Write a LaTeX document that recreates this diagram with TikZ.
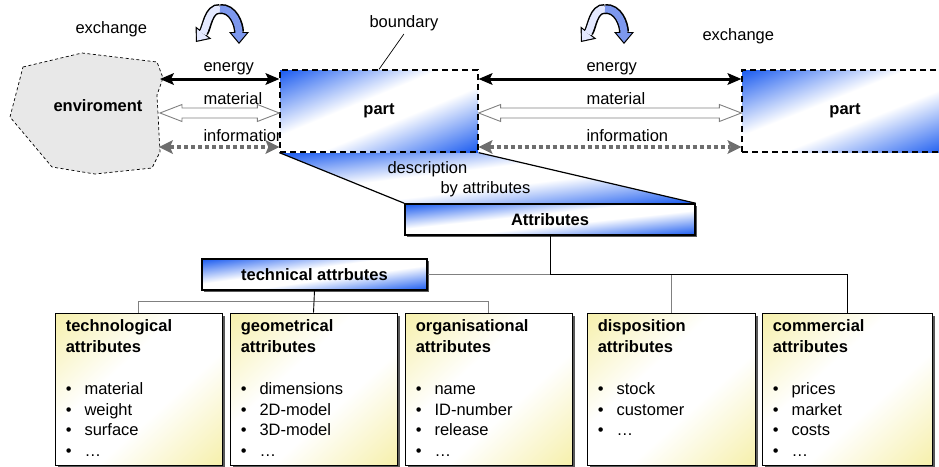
\documentclass[tikz,border=0pt]{standalone}
\usepackage{fontspec}
\setmainfont{Liberation Sans}
\usetikzlibrary{positioning, calc, arrows.meta, shadows, backgrounds}

\definecolor{envgray}{RGB}{232,232,232}
\definecolor{infogray}{RGB}{110,110,110}
\definecolor{iconblue}{RGB}{125,152,238}
\definecolor{iconwhite}{RGB}{228,233,255}

% white band along the diagonal, colour in the two far corners
\pgfdeclarefunctionalshading{partshade}{\pgfpointorigin}{\pgfpoint{100bp}{100bp}}{}{
  exch 25 sub 50 div exch 25 sub 50 div sub abs
  0.2 sub 0.8 div
  dup 0 lt {pop 0} if dup 1 gt {pop 1} if
  dup 0.902 mul 1 exch sub exch
  dup 0.647 mul 1 exch sub exch
  0.06 mul 1 exch sub
}
\pgfdeclarefunctionalshading{boxshade}{\pgfpointorigin}{\pgfpoint{100bp}{100bp}}{}{
  exch 25 sub 50 div exch 25 sub 50 div sub abs
  0.25 sub 0.75 div
  dup 0 lt {pop 0} if dup 1 gt {pop 1} if
  dup 0.035 mul 1 exch sub exch
  dup 0.06 mul 1 exch sub exch
  0.33 mul 1 exch sub
}

\newcommand{\diafont}{\fontsize{16.5}{20.5}\selectfont}
\newcommand{\titlelines}[1]{\begin{tabular}{@{}l@{}}#1\end{tabular}}
\newcommand{\bulletlist}[1]{\begin{tabular}{@{}l@{\hspace{13pt}}l@{}}#1\end{tabular}}
\newcommand{\matarrow}[2]{%
  \draw[matline] (#1) -- ($(#1)+(22,-8.5)$) -- ($(#1)+(22,-5)$) -- ($(#2)+(-22,-5)$)
    -- ($(#2)+(-22,-8.5)$) -- (#2) -- ($(#2)+(-22,8.5)$) -- ($(#2)+(-22,5)$)
    -- ($(#1)+(22,5)$) -- ($(#1)+(22,8.5)$) -- cycle;}

\tikzset{
  every node/.style={font=\diafont},
  envline/.style={draw=black, fill=envgray, line width=0.7pt, dash pattern=on 3pt off 2.5pt},
  partbox/.style={draw, line width=1.3pt, dash pattern=on 6pt off 4pt, shading=partshade, minimum height=82pt, font=\diafont\bfseries},
  headbox/.style={draw, line width=1.5pt, shading=partshade, minimum height=31pt, font=\diafont\bfseries, drop shadow={shadow xshift=2pt, shadow yshift=-2pt, fill=gray!70!black, opacity=1}},
  attrbox/.style={draw, line width=0.8pt, shading=boxshade, minimum height=152pt, drop shadow={shadow xshift=3pt, shadow yshift=-3pt, fill=gray!70!black, opacity=1}},
  boxtitle/.style={anchor=north west, inner sep=0pt, font=\diafont\bfseries},
  boxlist/.style={anchor=north west, inner sep=0pt},
  energyarrow/.style={line width=3pt, {Stealth[length=14pt, width=12pt, inset=3pt, line width=0pt]}-{Stealth[length=14pt, width=12pt, inset=3pt, line width=0pt]}},
  infoarrow/.style={infogray, line width=4pt, dash pattern=on 4pt off 3pt, {Stealth[length=14pt, width=14pt, inset=3pt, line width=0pt]}-{Stealth[length=14pt, width=14pt, inset=3pt, line width=0pt]}},
  matline/.style={draw=gray, fill=white, line width=0.9pt},
  darklink/.style={draw=black, line width=0.9pt},
  graylink/.style={draw=gray, line width=0.9pt},
  exchangeicon/.pic={
    \draw[line width=10pt, -{Triangle[length=12pt, width=20pt, line width=0pt]}] (0,9) .. controls (-12,8) and (-13,28) .. (-24,42);
    \draw[line width=10pt, -{Triangle[length=12pt, width=20pt, line width=0pt]}] (0,9) .. controls (13,8) and (19,24) .. (19,44);
    \draw[iconwhite, line width=7pt, shorten >=1.8pt, -{Triangle[length=9pt, width=15pt, line width=0pt]}] (0,9) .. controls (-12,8) and (-13,28) .. (-24,42);
    \draw[iconblue, line width=7pt, shorten >=1.8pt, -{Triangle[length=9pt, width=15pt, line width=0pt]}] (0,9) .. controls (13,8) and (19,24) .. (19,44);
  }
}

\begin{document}
\begin{tikzpicture}[x=1pt, y=-1pt]
  \useasboundingbox (0,0) rectangle (939,466);
  \clip (0,0) rectangle (939,466);

  % enviroment
  \draw[envline] (23,67) -- (82,53) -- (157,62) -- (163,78) -- (157,95) -- (160,152)
    -- (152,168) -- (95,174) -- (52,167) -- (10,117) -- cycle;
  \node[font=\diafont\bfseries] (env) at (98,106) {enviroment};
  \coordinate (envE) at (160,79);
  \coordinate (envM) at (160,113);
  \coordinate (envI) at (159,147);

  % exchange labels
  \pic at (220,0) {exchangeicon};
  \pic at (605,0) {exchangeicon};
  \node[anchor=base west] (exLeft) at (72,33) {exchange};
  \node[anchor=base west] (exRight) at (699,40) {exchange};
  \node[anchor=base west] (bnd) at (366,27) {boundary};
  \node[anchor=base west] (enL) at (200,71) {energy};
  \node[anchor=base west] (maL) at (200,104) {material};
  \node[anchor=base west] (inL) at (200,141) {information};
  \node[anchor=base west] (enR) at (583,71) {energy};
  \node[anchor=base west] (maR) at (583,104) {material};
  \node[anchor=base west] (inR) at (583,141) {information};

  % parts
  \node[partbox, minimum width=198pt] (part1) at (379,111) {part};
  \node[partbox, minimum width=206pt] (part2) at (845,111) {part};
  \draw[line width=0.7pt] (bnd.south) -- (part1.north);

  \coordinate (p1E) at (part1.west |- envE);
  \coordinate (p1M) at (part1.west |- envM);
  \coordinate (p1I) at (part1.west |- envI);
  \coordinate (q1E) at (part1.east |- envE);
  \coordinate (q1M) at (part1.east |- envM);
  \coordinate (q1I) at (part1.east |- envI);
  \coordinate (p2E) at (part2.west |- envE);
  \coordinate (p2M) at (part2.west |- envM);
  \coordinate (p2I) at (part2.west |- envI);

  \draw[energyarrow] (envE) -- (p1E);
  \draw[energyarrow] (q1E) -- (p2E);
  \matarrow{envM}{p1M}
  \matarrow{q1M}{p2M}
  \draw[infoarrow] (envI) -- (p1I);
  \draw[infoarrow] (q1I) -- (p2I);

  % description by attributes
  \node[headbox, minimum width=290pt] (attr) at (550,219.5) {Attributes};
  \node[headbox, minimum width=225pt] (tech) at (314.5,274.5) {technical attrbutes};
  \begin{scope}[on background layer]
    \shade[shading=partshade] (part1.south west) -- (part1.south east)
      -- (attr.north east) -- (attr.north west) -- cycle;
  \end{scope}
  \draw[line width=1.2pt] (part1.south west) -- (attr.north west);
  \draw[line width=1.2pt] (part1.south east) -- (attr.north east);
  \node[anchor=base west] (desc1) at (384,173) {description};
  \node[anchor=base west] (desc2) at (437,193) {by attributes};

  % attribute groups
  \foreach \boxname/\xc/\bw/\boxttl/\items in {
    techno/138.5/167/{technological\\attributes}/{\textbullet & material\\ \textbullet & weight\\ \textbullet & surface\\ \textbullet & …},
    geo/313.5/167/{geometrical\\attributes}/{\textbullet & dimensions\\ \textbullet & 2D-model\\ \textbullet & 3D-model\\ \textbullet & …},
    orga/488.5/167/{organisational\\attributes}/{\textbullet & name\\ \textbullet & ID-number\\ \textbullet & release\\ \textbullet & …},
    dispo/671/168/{disposition\\attributes}/{\textbullet & stock\\ \textbullet & customer\\ \textbullet & …},
    comm/847/170/{commercial\\attributes}/{\textbullet & prices\\ \textbullet & market\\ \textbullet & costs\\ \textbullet & …}}
  {
    \node[attrbox, minimum width=\bw pt] (\boxname) at (\xc,389) {};
    \node[boxtitle] (\boxname-t) at ([shift={(11,4.6)}]\boxname.north west) {\titlelines{\boxttl}};
    \node[boxlist] (\boxname-l) at ([shift={(11,67.6)}]\boxname.north west) {\bulletlist{\items}};
  }

  % tree links
  \draw[graylink] (tech.east) -- (attr.south |- tech.east);
  \draw[darklink] (attr.south) -- (attr.south |- tech.east) -| (comm.north);
  \draw[graylink] (dispo.north) -- (dispo.north |- tech.east);
  \draw[graylink] (techno.north) -- ++(0,-11) -| (orga.north);
  \draw[darklink] (tech.south) -- (geo.north);
\end{tikzpicture}
\end{document}
